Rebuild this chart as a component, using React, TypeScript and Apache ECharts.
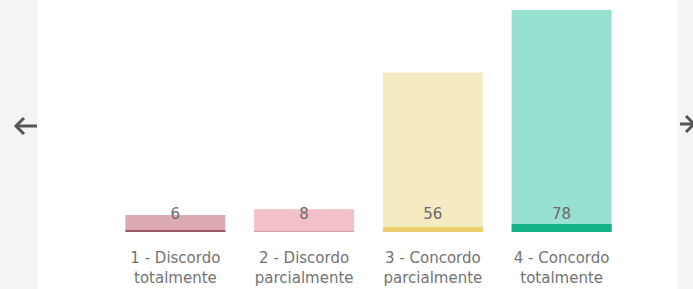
import React, { useEffect, useRef } from "react";
import * as echarts from "echarts";

const categories = ["1 - Discordo\ntotalmente", "2 - Discordo\nparcialmente", "3 - Concordo\nparcialmente", "4 - Concordo\ntotalmente"];
const values = [6, 8, 56, 78];

const bodyColors = ["#dcabb2", "#f2c1c7", "#f5ebc3", "#98e0cf"];
const stripColors = ["#9c5a68", "#d99ea8", "#ecd06e", "#14b386"];
const stripHeights = [2, 1, 5, 8];

export default function App() {
  const ref = useRef<HTMLDivElement>(null);
  useEffect(() => {
    if (!ref.current) return;
    const chart = echarts.init(ref.current, null, { renderer: "svg" });
    const font = "'DejaVu Sans', 'Noto Sans', sans-serif";
    chart.setOption({
      animation: false,
      backgroundColor: "#ffffff",
      grid: { left: 111, right: 67, top: 10, bottom: 57, containLabel: false },
      xAxis: {
        type: "category",
        data: categories,
        axisLine: { show: false },
        axisTick: { show: false },
        axisLabel: {
          interval: 0,
          margin: 16,
          color: "#737373",
          fontSize: 15,
          lineHeight: 20,
          fontFamily: font,
        },
      },
      yAxis: {
        type: "value",
        min: 0,
        max: 78,
        show: false,
        splitLine: { show: false },
      },
      graphic: [
        { type: "rect", shape: { x: 0, y: 0, width: 37, height: 289 }, style: { fill: "#f4f4f4" }, silent: true },
        { type: "rect", shape: { x: 677, y: 0, width: 16, height: 289 }, style: { fill: "#f4f4f4" }, silent: true },
        { type: "line", shape: { x1: 16, y1: 126, x2: 37, y2: 126 }, style: { stroke: "#555555", lineWidth: 3 } },
        { type: "polyline", shape: { points: [[24, 118], [16, 126], [24, 134]] }, style: { stroke: "#555555", lineWidth: 3, fill: null } },
        { type: "line", shape: { x1: 680, y1: 124, x2: 693, y2: 124 }, style: { stroke: "#555555", lineWidth: 3 } },
        { type: "polyline", shape: { points: [[686, 116], [694, 124], [686, 132]] }, style: { stroke: "#555555", lineWidth: 3, fill: null } },
      ],
      series: [
        {
          type: "bar",
          barWidth: 100,
          data: values.map((v, i) => ({ value: v, itemStyle: { color: bodyColors[i] } })),
          label: {
            show: true,
            position: "insideBottom",
            distance: 11,
            color: "#6b6b6b",
            fontSize: 15,
            fontFamily: font,
          },
          z: 2,
        },
        {
          type: "custom",
          data: values.map((_, i) => [i, 0]),
          z: 3,
          renderItem: (params: any, api: any) => {
            const i = api.value(0);
            const base = api.coord([i, 0]);
            const w = 100;
            const h = stripHeights[i];
            return {
              type: "rect",
              shape: { x: base[0] - w / 2, y: base[1] - h, width: w, height: h },
              style: { fill: stripColors[i] },
            };
          },
        },
      ],
    });
    return () => chart.dispose();
  }, []);
  return <div ref={ref} style={{ position: "fixed", left: 0, top: 0, width: 693, height: 289 }} />;
}
